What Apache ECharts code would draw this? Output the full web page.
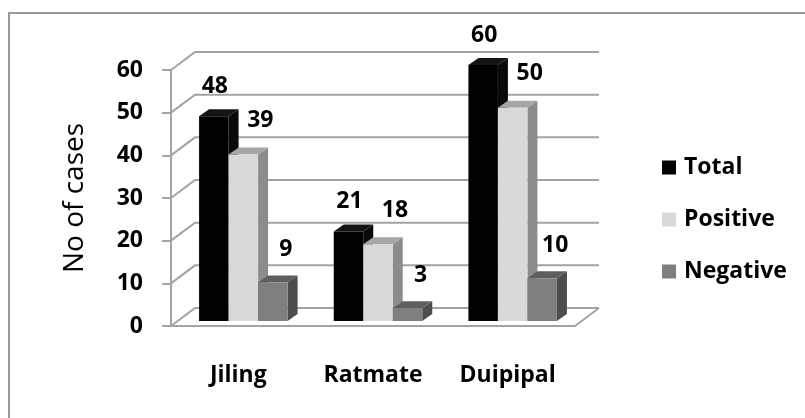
<!DOCTYPE html>
<html lang="en">

<head>
  <meta charset="UTF-8">
  <title>No of cases</title>
  <style>
    html, body {
      margin: 0;
      width: 100%;
      height: 100%;
      background: #fff;
    }

    .chart {
      width: 805px;
      height: 418px;
    }
  </style>
</head>

<body>
  <div id="chart" class="chart"></div>

  <script src="https://cdn.jsdelivr.net/npm/echarts@6/dist/echarts.min.js"></script>
  <script>
    // data
    var places = ['Jiling', 'Ratmate', 'Duipipal'];
    var totalCases = [48, 21, 60];
    var positiveCases = [39, 18, 50];
    var negativeCases = [9, 3, 10];
    var yTicks = [0, 10, 20, 30, 40, 50, 60];

    var FONT = '"Open Sans"';
    var GRID_COLOR = '#a3a3a3';
    // depth of the back wall and of the bars (fake 3d)
    var WALL_DX = 24, WALL_DY = -18;
    var BAR_DX = 10, BAR_DY = -7;
    var BAR_SHIFT_X = 5, BAR_SHIFT_Y = -5;
    var BAR_W = 29.5;

    var myChart = echarts.init(document.getElementById('chart'));

    // walls + floor
    function renderFrame(params, api) {
      var cs = params.coordSys;
      var v = api.value(1);
      var y = api.coord([0, v])[1];
      var x0 = cs.x, x1 = cs.x + cs.width;
      var pts = [[x0, y], [x0 + WALL_DX, y + WALL_DY], [x1 + WALL_DX, y + WALL_DY]];
      var children = [{
        type: 'polyline',
        shape: { points: pts },
        style: { stroke: GRID_COLOR, lineWidth: 2, fill: null }
      }];
      if (v === 0) {
        children.push({
          type: 'polyline',
          shape: { points: [[x0 - 9, y], [x1, y], [x1 + WALL_DX, y + WALL_DY]] },
          style: { stroke: GRID_COLOR, lineWidth: 2, fill: null }
        });
      }
      return { type: 'group', children: children };
    }

    function barRenderer(k, colors, labelDx, labelDy) {
      return function (params, api) {
        var idx = api.value(0);
        var val = api.value(1);
        var top = api.coord([idx, val]);
        var base = api.coord([idx, 0]);
        var xl = top[0] + BAR_SHIFT_X + (k - 0.5) * BAR_W;
        var xr = xl + BAR_W;
        var yt = top[1] + BAR_SHIFT_Y;
        var yb = base[1] + BAR_SHIFT_Y;
        return {
          type: 'group',
          children: [{
            type: 'polygon',
            shape: { points: [[xr, yt], [xr + BAR_DX, yt + BAR_DY], [xr + BAR_DX, yb + BAR_DY], [xr, yb]] },
            style: { fill: colors[2] }
          }, {
            type: 'polygon',
            shape: { points: [[xl, yt], [xl + BAR_DX, yt + BAR_DY], [xr + BAR_DX, yt + BAR_DY], [xr, yt]] },
            style: { fill: colors[1] }
          }, {
            type: 'rect',
            shape: { x: xl, y: yt, width: BAR_W, height: yb - yt },
            style: { fill: colors[0] }
          }, {
            type: 'text',
            x: (xl + xr) / 2 + labelDx,
            y: yt - labelDy,
            style: {
              text: String(val),
              fill: '#000',
              font: 'bold 23px ' + FONT,
              align: 'center',
              verticalAlign: 'middle'
            }
          }]
        };
      };
    }

    function pairs(arr) {
      return arr.map(function (v, i) { return [i, v]; });
    }

    var option = {
      animation: false,
      graphic: [{
        type: 'rect',
        shape: { x: 9, y: 13, width: 900, height: 500 },
        style: { fill: null, stroke: '#999', lineWidth: 2 }
      }],
      legend: {
        orient: 'vertical',
        left: 657,
        top: 149,
        icon: 'rect',
        itemWidth: 14,
        itemHeight: 14,
        itemGap: 25,
        textStyle: {
          fontFamily: FONT, fontWeight: 'bold', fontSize: 23, lineHeight: 27,
          color: '#000', padding: [0, 0, 0, 3]
        },
        data: ['Total', 'Positive', 'Negative']
      },
      grid: {
        left: 171,
        right: 230,
        top: 70,
        bottom: 92
      },
      xAxis: {
        type: 'category',
        data: places,
        axisLine: { show: false },
        axisTick: { show: false },
        axisLabel: {
          margin: 38,
          color: '#000',
          fontFamily: FONT,
          fontWeight: 'bold',
          fontSize: 23
        }
      },
      yAxis: {
        type: 'value',
        min: 0,
        max: 60,
        interval: 10,
        name: 'No of cases',
        nameLocation: 'middle',
        nameGap: 82,
        nameTextStyle: { fontFamily: FONT, fontSize: 28, color: '#000' },
        splitLine: { show: false },
        axisLine: { show: true, lineStyle: { color: GRID_COLOR, width: 2 } },
        axisTick: { show: true, length: 9, lineStyle: { color: GRID_COLOR, width: 2 } },
        axisLabel: {
          margin: 28,
          color: '#000',
          fontFamily: FONT,
          fontWeight: 'bold',
          fontSize: 23
        }
      },
      series: [{
        type: 'custom',
        name: 'frame',
        silent: true,
        renderItem: renderFrame,
        data: yTicks.map(function (v) { return [0, v]; }),
        z: 1
      }, {
        type: 'custom',
        name: 'Total',
        itemStyle: { color: '#000' },
        renderItem: barRenderer(-1, ['#000', '#141414', '#0a0a0a'], 1, 30),
        data: pairs(totalCases),
        z: 2
      }, {
        type: 'custom',
        name: 'Positive',
        itemStyle: { color: '#d9d9d9' },
        renderItem: barRenderer(0, ['#d9d9d9', '#a6a6a6', '#8c8c8c'], 17, 34),
        data: pairs(positiveCases),
        z: 3
      }, {
        type: 'custom',
        name: 'Negative',
        itemStyle: { color: '#7f7f7f' },
        renderItem: barRenderer(1, ['#7f7f7f', '#5f5f5f', '#4d4d4d'], 13, 33),
        data: pairs(negativeCases),
        z: 4
      }]
    };

    myChart.setOption(option);
  </script>
</body>

</html>
